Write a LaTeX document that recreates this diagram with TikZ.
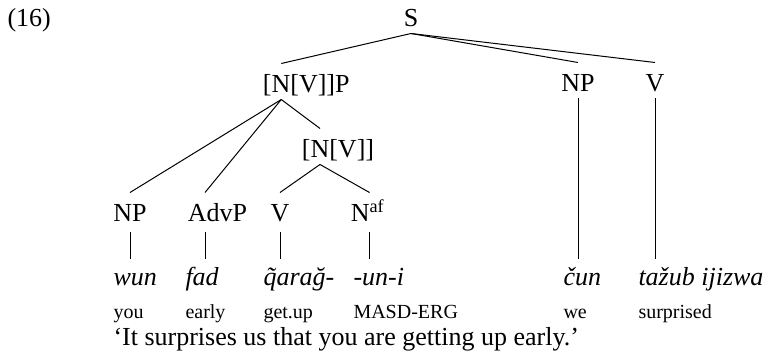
\documentclass[tikz,border=0pt]{standalone}
\usepackage{fontspec}
\setmainfont{Liberation Serif}
\usetikzlibrary{calc}
\begin{document}
\begin{tikzpicture}[x=1pt,y=-1pt,line width=1pt,
  cat/.style={anchor=base,inner sep=0pt,text height=29pt,text depth=6pt,
    font=\fontsize{26}{30}\selectfont},
  leafcat/.style={cat,text depth=9pt},
  word/.style={anchor=base west,inner sep=0pt,text height=26pt,
    font=\fontsize{26}{30}\selectfont\itshape},
  gloss/.style={anchor=base west,inner sep=0pt,font=\fontsize{20}{24}\selectfont},
  transl/.style={anchor=base west,inner sep=0pt,font=\fontsize{26}{30}\selectfont}]
\useasboundingbox (0,0) rectangle (768,358);

% example number
\node[transl] (num) at (7,27) {(16)};

% tree labels
\node[cat] (S) at (411,27) {S};
\node[cat] (NVP) at (306.3,93) {[N[V]]P};
\node[cat] (NPr) at (578,92) {NP};
\node[cat] (Vr) at (655,92) {V};
\node[cat] (NV) at (338,158) {[N[V]]};
\node[leafcat] (NPl) at (130,222) {NP};
\node[leafcat] (AdvP) at (217.5,222) {AdvP};
\node[leafcat] (Vl) at (280,222) {V};
\node[leafcat] (Naf) at (367.5,222) {N\textsuperscript{af}};

% object-language words
\node[word] (w1) at (113,285) {wun};
\node[word] (w2) at (185,285) {fad};
\node[word] (w3) at (263,285) {q̃arağ-};
\node[word] (w4) at (353,285) {-un-i};
\node[word] (w5) at (563,285) {čun};
\node[word] (w6) at (638,285) {tažub ijizwa};

% glosses
\node[gloss] (g1) at (113,318) {you};
\node[gloss] (g2) at (185,318) {early};
\node[gloss] (g3) at (263,318) {get.up};
\node[gloss] (g4) at (353,318) {MASD-ERG};
\node[gloss] (g5) at (563,318) {we};
\node[gloss] (g6) at (638,318) {surprised};

% free translation
\node[transl] (tr) at (113,345) {‘It surprises us that you are getting up early.’};

% branches
\draw (S.south) -- ([xshift=-25pt]NVP.north);
\draw (S.south) -- (NPr.north);
\draw (S.south) -- (Vr.north);
\draw ([xshift=-25pt]NVP.south) -- (NPl.north);
\draw ([xshift=-25pt]NVP.south) -- ([xshift=-12.5pt]AdvP.north);
\draw ([xshift=-25pt]NVP.south) -- ([xshift=-18pt]NV.north);
\draw ([xshift=-18pt]NV.south) -- (Vl.north);
\draw ([xshift=-18pt]NV.south) -- ([xshift=2pt]Naf.north);

% vertical lines down to the words
\draw (NPl.south) -- (NPl.south |- w1.north);
\draw ([xshift=-12.5pt]AdvP.south) -- ([xshift=-12.5pt]AdvP.south |- w2.north);
\draw (Vl.south) -- (Vl.south |- w3.north);
\draw ([xshift=2pt]Naf.south) -- ([xshift=2pt]Naf.south |- w4.north);
\draw (NPr.south) -- (NPr.south |- w5.north);
\draw (Vr.south) -- (Vr.south |- w6.north);
\end{tikzpicture}
\end{document}
